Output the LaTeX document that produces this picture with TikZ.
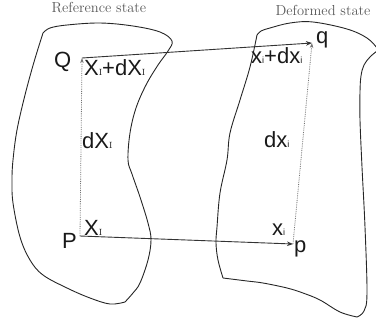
\documentclass[tikz,border=0pt]{standalone}
\usepackage{fontspec}
\setsansfont{Liberation Sans}
\usetikzlibrary{arrows.meta}
\newcommand{\subI}{{\fontsize{9}{9}\rmfamily I}}
\newcommand{\subi}{{\fontsize{9}{9}\sffamily i}}
\begin{document}
\begin{tikzpicture}[x=1pt,y=-1pt,
  blob/.style={draw=black!85,line width=0.9pt,line join=round},
  lbl/.style={font=\fontsize{22}{22}\sffamily,inner sep=0pt,anchor=base west,text=black!90},
  title/.style={font=\fontsize{14.5}{14.5}\rmfamily,text=black!65,inner sep=0pt},
  solidarrow/.style={draw=black!80,line width=0.9pt,-{Stealth[length=6pt,width=4.5pt]}},
  dotarrow/.style={draw=black!55,line width=0.8pt,densely dotted,-{Stealth[length=5pt,width=3.5pt]}}]
\useasboundingbox (0,0) rectangle (376,325);
% titles
\node[title] (t1) at (99,8) {Reference state};
\node[title] (t2) at (323,10) {Deformed state};
% reference body
\draw[blob] plot[smooth,tension=0.6] coordinates{(43,33)(50,28)(67,25)(100,23)(133,26)(160,32)(172,41)(168,51)(158,65)(146,85)(136,108)(130,133)(128,160)(132,174)(140,197)(148,223)(151,240)(148,260)(140,283)(133,293)(125,302)}
  plot[smooth,tension=0.6] coordinates{(125,302)(110,304)(90,298)(67,288)(43,275)(30,260)(20,237)(13,203)(12,180)(13,160)(17,130)(25,95)(34,62)(43,33)};
% deformed body
\draw[blob] plot[smooth,tension=0.6] coordinates{(257,35)(261,31)(270,28)(290,23)(313,22)(347,29)(367,38)(377,48)}
  plot[smooth,tension=0.6] coordinates{(377,51)(370,57)(364,65)(361,76)(360,92)(360,120)(362,167)(365,227)(367,293)(364,311)(357,317)}
  plot[smooth,tension=0.6] coordinates{(357,317)(340,312)(320,300)(303,293)(287,288)(263,283)(247,281)(223,278)}
  plot[smooth,tension=0.6] coordinates{(223,278)(218,260)(216,243)(217,227)(220,193)(227,160)(230,133)(240,100)(250,67)(257,35)};
% points
\coordinate (P) at (80,236);
\coordinate (Q) at (82,58);
\coordinate (p) at (293,244);
\coordinate (q) at (312,43);
% connectors
\draw[dotarrow] (P) -- (Q);
\draw[dotarrow] (p) -- (q);
\draw[solidarrow] (Q) -- (q);
\draw[solidarrow] (P) -- (p);
% labels
\node[lbl] (lQ) at (54,67) {Q};
\node[lbl] (lXQ) at (84,75) {X\subI+dX\subI};
\node[lbl] (ldX) at (82,148) {dX\subI};
\node[lbl] (lP) at (62,248) {P};
\node[lbl] (lXP) at (84,235) {X\subI};
\node[lbl] (lxq) at (251,63) {x\subi+dx\subi};
\node[lbl] (ldx) at (264,147) {dx\subi};
\node[lbl] (lxp) at (272,235) {x\subi};
\node[lbl] (lp) at (294,252) {p};
\node[lbl] (lq) at (316,43) {q};
\end{tikzpicture}
\end{document}
